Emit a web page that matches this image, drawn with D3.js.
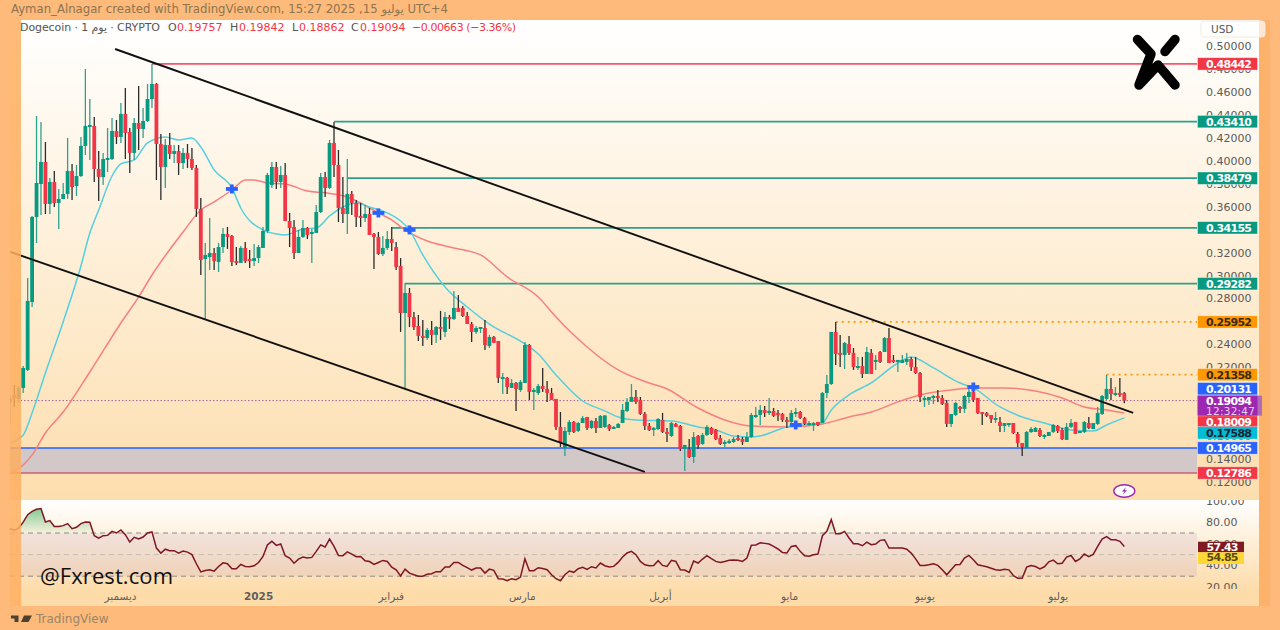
<!DOCTYPE html>
<html><head><meta charset="utf-8">
<script src="https://cdnjs.cloudflare.com/ajax/libs/d3/7.8.5/d3.min.js"></script>
<style>html,body{margin:0;padding:0;background:#fdba7a;overflow:hidden}svg{display:block}text{font-family:"DejaVu Sans",sans-serif}</style>
</head><body><div id="chart"></div>
<script>
const opens=[.1898,.1959,.1924,.2020,.2177,.2769,.3510,.3797,.3989,.3623,.3815,.3632,.3667,.3710,.3911,.3780,.3867,.4129,.4294,.4303,.3928,.3858,.4007,.4015,.4259,.4207,.4408,.4250,.4068,.4329,.4277,.4346,.4538,.4669,.4146,.3946,.4137,.4059,.4085,.3980,.4068,.4015,.3937,.3580,.3144,.3161,.3196,.3118,.3248,.3362,.3344,.3126,.3109,.3240,.3144,.3126,.3152,.3240,.3388,.3789,.3946,.3815,.3876,.3475,.3423,.3196,.3336,.3414,.3362,.3371,.3553,.3858,.3763,.4155,.3963,.3588,.3536,.3710,.3632,.3519,.3501,.3536,.3362,.3336,.3187,.3240,.3318,.3248,.3083,.2673,.2848,.2638,.2560,.2473,.2455,.2525,.2482,.2551,.2508,.2638,.2621,.2717,.2717,.2647,.2577,.2508,.2538,.2542,.2386,.2464,.2429,.2098,.2107,.2020,.2063,.2002,.2063,.2394,.1985,.1976,.2037,.2011,.1976,.1924,.1680,.1497,.1636,.1723,.1645,.1714,.1767,.1671,.1732,.1671,.1680,.1697,.1671,.1671,.1714,.1819,.1898,.1941,.1915,.1793,.1688,.1662,.1662,.1741,.1636,.1601,.1706,.1688,.1488,.1488,.1418,.1601,.1532,.1610,.1671,.1654,.1584,.1532,.1540,.1549,.1584,.1575,.1549,.1592,.1776,.1784,.1828,.1810,.1819,.1802,.1793,.1741,.1723,.1802,.1810,.1758,.1697,.1697,.1723,.1714,.1976,.2054,.2508,.2325,.2307,.2403,.2325,.2194,.2211,.2142,.2325,.2246,.2333,.2333,.2455,.2264,.2246,.2237,.2246,.2272,.2203,.2150,.1915,.1915,.1932,.1950,.1932,.1889,.1706,.1784,.1854,.1837,.1941,.1985,.1932,.1810,.1802,.1784,.1749,.1723,.1688,.1706,.1714,.1619,.1540,.1497,.1636,.1636,.1654,.1592,.1601,.1636,.1688,.1654,.1567,.1680,.1723,.1627,.1636,.1714,.1662,.1706,.1793,.1924,.2011,.1967,.1976,.1976];
const closes=[.1932,.1932,.2020,.2194,.2778,.3510,.3806,.3989,.3623,.3815,.3632,.3667,.3710,.3911,.3771,.3867,.4129,.4303,.4312,.3928,.3858,.4015,.4024,.4259,.4207,.4408,.4242,.4068,.4329,.4277,.4346,.4538,.4669,.4146,.3946,.4137,.4059,.4085,.3980,.4068,.4015,.3937,.3580,.3135,.3179,.3196,.3126,.3248,.3362,.3336,.3118,.3109,.3240,.3126,.3126,.3152,.3248,.3388,.3876,.3946,.3815,.3876,.3475,.3414,.3196,.3336,.3414,.3353,.3379,.3553,.3858,.3763,.4155,.3963,.3588,.3536,.3710,.3632,.3510,.3506,.3536,.3353,.3336,.3187,.3240,.3318,.3283,.3074,.2673,.2848,.2638,.2551,.2473,.2460,.2525,.2482,.2551,.2534,.2638,.2621,.2717,.2682,.2647,.2577,.2508,.2542,.2551,.2394,.2464,.2412,.2107,.2115,.2028,.2063,.2011,.2072,.2394,.1985,.2002,.2037,.2011,.1976,.1915,.1680,.1540,.1645,.1723,.1636,.1714,.1758,.1671,.1732,.1671,.1776,.1780,.1662,.1680,.1706,.1828,.1898,.1941,.1898,.1793,.1688,.1654,.1671,.1749,.1636,.1619,.1714,.1680,.1488,.1523,.1418,.1592,.1523,.1610,.1680,.1619,.1575,.1532,.1549,.1558,.1575,.1575,.1549,.1592,.1784,.1784,.1828,.1802,.1819,.1776,.1784,.1741,.1723,.1802,.1810,.1758,.1706,.1714,.1714,.1697,.1976,.2054,.2508,.2316,.2316,.2412,.2325,.2203,.2211,.2142,.2333,.2142,.2264,.2246,.2455,.2237,.2246,.2264,.2264,.2272,.2203,.2150,.1941,.1932,.1941,.1950,.1932,.1880,.1706,.1793,.1889,.1837,.1950,.1985,.1915,.1802,.1802,.1776,.1749,.1758,.1688,.1714,.1714,.1627,.1540,.1505,.1636,.1662,.1671,.1601,.1610,.1636,.1697,.1645,.1575,.1680,.1714,.1619,.1645,.1723,.1671,.1714,.1802,.1950,.2011,.1967,.1976,.1959,.1909];
const highs=[.1959,.2046,.2037,.2211,.2978,.3519,.4390,.4338,.4163,.3850,.3911,.3754,.3806,.4198,.3972,.3963,.4207,.4800,.4538,.4381,.4085,.4068,.4285,.4373,.4355,.4503,.4634,.4285,.4373,.4651,.4460,.4669,.4843,.4678,.4233,.4190,.4242,.4137,.4137,.4111,.4146,.4111,.3963,.3675,.3283,.3501,.3240,.3283,.3414,.3423,.3353,.3248,.3257,.3292,.3222,.3275,.3266,.3423,.3893,.3989,.3989,.3954,.3980,.3545,.3484,.3397,.3484,.3423,.3405,.3614,.3893,.3902,.4181,.4338,.4094,.3858,.4015,.3736,.3658,.3632,.3614,.3588,.3371,.3379,.3344,.3388,.3423,.3292,.3152,.2935,.2891,.2682,.2656,.2612,.2542,.2603,.2560,.2691,.2682,.2656,.2865,.2830,.2734,.2682,.2595,.2560,.2551,.2612,.2482,.2473,.2429,.2150,.2115,.2098,.2072,.2089,.2420,.2403,.2020,.2054,.2194,.2080,.2020,.1924,.1810,.1680,.1741,.1732,.1723,.1776,.1767,.1741,.1758,.1784,.1784,.1706,.1688,.1714,.1880,.1932,.2054,.2002,.1941,.1810,.1714,.1680,.1758,.1802,.1671,.1723,.1714,.1697,.1523,.1575,.1636,.1610,.1627,.1697,.1680,.1662,.1610,.1567,.1575,.1592,.1610,.1592,.1636,.1802,.1854,.1871,.1863,.1932,.1845,.1828,.1802,.1767,.1828,.1845,.1819,.1767,.1732,.1723,.1723,.1985,.2133,.2508,.2595,.2482,.2420,.2473,.2368,.2290,.2290,.2377,.2360,.2307,.2342,.2464,.2542,.2307,.2264,.2307,.2325,.2290,.2290,.2159,.1949,.1941,.1959,.2002,.1959,.1915,.1793,.1898,.1863,.1959,.2037,.2046,.1932,.1810,.1810,.1784,.1810,.1767,.1714,.1714,.1714,.1636,.1540,.1645,.1680,.1680,.1671,.1619,.1636,.1706,.1697,.1671,.1714,.1749,.1723,.1645,.1732,.1767,.1714,.1854,.1959,.2133,.2107,.2028,.2107,.1984];
const lows=[.1697,.1854,.1889,.1976,.2168,.2725,.3283,.3527,.3536,.3536,.3597,.3405,.3667,.3667,.3658,.3693,.3858,.4050,.4007,.3815,.3649,.3789,.3902,.4007,.4146,.4155,.4015,.3893,.4007,.4094,.4198,.4338,.4460,.3832,.3658,.3763,.4015,.3980,.3876,.3928,.3937,.3920,.3510,.3004,.2612,.3048,.3048,.3031,.3196,.3231,.3083,.3092,.3109,.3109,.3065,.3083,.3109,.3240,.3371,.3763,.3754,.3763,.3475,.3248,.3144,.3196,.3327,.3318,.3109,.3371,.3545,.3684,.3754,.3858,.3466,.3458,.3362,.3527,.3423,.3423,.3466,.3353,.3057,.3179,.3170,.3222,.3214,.3048,.2508,.2020,.2551,.2525,.2429,.2386,.2438,.2394,.2412,.2438,.2464,.2534,.2612,.2682,.2638,.2577,.2420,.2490,.2499,.2351,.2368,.2412,.2063,.1967,.1967,.2020,.1819,.1985,.2063,.1915,.1828,.1959,.1985,.1898,.1915,.1654,.1505,.1427,.1610,.1627,.1636,.1714,.1654,.1662,.1627,.1671,.1671,.1645,.1662,.1671,.1714,.1810,.1898,.1880,.1784,.1654,.1645,.1601,.1654,.1627,.1549,.1592,.1680,.1471,.1296,.1410,.1366,.1488,.1523,.1601,.1610,.1567,.1523,.1505,.1532,.1540,.1558,.1523,.1549,.1584,.1758,.1697,.1767,.1784,.1767,.1732,.1723,.1671,.1714,.1767,.1749,.1697,.1688,.1645,.1688,.1714,.1932,.2046,.2220,.2203,.2185,.2307,.2177,.2177,.2107,.2142,.2142,.2177,.2237,.2333,.2237,.2237,.2159,.2237,.2220,.2168,.2142,.1898,.1854,.1871,.1880,.1898,.1871,.1680,.1680,.1776,.1802,.1802,.1889,.1898,.1793,.1697,.1767,.1714,.1714,.1636,.1636,.1680,.1619,.1505,.1427,.1488,.1627,.1636,.1592,.1575,.1601,.1627,.1627,.1567,.1567,.1671,.1619,.1627,.1627,.1662,.1662,.1697,.1784,.1915,.1915,.1950,.1941,.1886];
const rsiValues=[74,72.5,74.7,80,87,90,92,92.6,80.2,81.5,76,76,76.8,78.7,74,75.3,78.7,80.2,80,67.5,65.3,67.5,67.8,71.5,70,72.8,68.5,61.6,66,64.4,66.3,70,71,56,51.4,55,53.6,53.6,51.4,53.3,52.3,50,41.5,34,35.3,36,34.7,39,42.4,41.5,36.8,36.8,40.9,39,38.7,39.6,42.7,48.3,59,62.3,58.5,59.8,49,46.8,42,45.8,47.7,46.8,47.4,53,59,57,64.4,57.6,49.2,49,52.6,50.5,48,48.3,44.3,43.6,40.9,42.7,44.6,43.6,38.4,35.9,30.3,36.5,32.8,31.3,30,30,31.9,32.3,34.2,34.2,38.5,38.5,42.8,42.8,40,37.9,35.7,37.6,37.6,32.9,36.6,35.4,27.7,27.4,25.8,27.7,26.7,29.2,46.2,35.1,35.1,37.9,37.2,36,31.4,27.7,25.8,31.4,34.8,33.6,36.9,38.2,36.3,38.8,37.6,42.2,39.7,38.5,39.1,42.8,47.8,51.5,53,49.9,43.7,40.6,39.7,40,44.4,40,39.1,44.7,43.7,36,35.7,33.5,44,42.2,45.9,49,46.2,43.7,42.8,43.7,44.7,45,44.7,43.7,46.8,58.6,58.9,61,60.4,59.8,57.6,55.2,52,51.5,57.6,58.3,53,49,48.4,49.9,50.5,67.5,71.5,82.4,69.4,69.4,71.5,65.4,60,60,58.2,61.6,59.2,59.8,63.2,63.8,56,56,56,56,55,51.4,46,40,40,40.6,41.5,40,35.9,31.3,35.9,40.6,40.9,46.8,49.2,45.2,40.6,39.6,38.7,37.4,35.9,35.6,36.5,35.9,30.6,28.1,28,38.4,39.9,39,36.8,38.7,43.3,44.9,41.5,42,47.7,49.2,43.6,46.1,50.5,48,50.2,57.6,64.4,66.6,63.8,63.8,62.3,57.43];
const fastIdx=[0,3,5,8,12,16,18,20,23,25,28,31,35,38,41,43,46,50,52,57,60,62,66,69,72,75,78,81,85,88,90,93,98,103,108,116,119,123,129,134,137,141,149,155,159,163,167,169,175,183,185,189,194,200,203,208,214,217,223,228,233,239,244,247,251];
const fastVals=[.154,.161,.1802,.215,.2595,.3083,.337,.357,.3867,.3972,.4007,.4155,.4207,.4181,.4198,.412,.392,.3763,.3588,.3397,.3362,.3353,.3405,.3414,.3519,.3597,.3632,.3597,.3545,.3475,.3397,.3179,.29,.2725,.2577,.2403,.2316,.2133,.1906,.182,.1767,.1741,.1732,.168,.1654,.1601,.1592,.1601,.168,.1714,.1828,.1959,.2063,.2237,.229,.2194,.2063,.202,.1854,.1767,.1714,.1654,.1645,.1697,.17588];
const slowIdx=[0,3,5,8,12,18,25,29,32,39,43,46,50,53,55,58,62,67,71,76,79,83,86,89,94,99,106,112,119,123,130,137,144,148,155,161,167,175,183,189,194,200,205,212,217,224,231,237,242,247,251];
const slowVals=[.1279,.1348,.1436,.1627,.181,.2159,.2586,.2813,.3004,.3379,.3571,.3641,.3745,.3832,.3832,.3806,.3797,.3736,.372,.3684,.3632,.3545,.3484,.3397,.33,.3248,.3179,.2987,.2813,.2638,.2377,.2177,.2063,.2011,.1845,.1741,.1688,.168,.1706,.1767,.181,.1898,.1959,.2002,.202,.202,.1993,.1932,.1854,.1828,.18009];
const solidLevels=[.48442,.4341,.38479,.34155,.29282];
const solidStarts=[32,73,76,86,89];
const dottedLevels=[.25952,.21358];
const dottedStarts=[186,247];
const zoneTop=.14965, zoneBottom=.12786, lastPrice=.19094;
const trendA=[[23.7,.4974],[253,.1802]];
const trendB=[[.1,.3205],[143,.1288]];
const crossIdx=[50,83,90,177,217];
const crossVals=[.3754,.3545,.3397,.1697,.2028];
const priceTicks=[.5,.48,.46,.44,.42,.4,.38,.36,.34,.32,.3,.28,.26,.24,.22,.2,.18,.16,.14,.12];
const rsiTicks=[100,80,60,40,20];
const timeTicks=[24.8,55.9,85.8,115.3,146.4,175.5,206,236];
const timeLabels=["ديسمبر","2025","فبراير","مارس","أبريل","مايو","يونيو","يوليو"];
const labelValues=[.48442,.4341,.38479,.34155,.29282,.25952,.21358,.20131,.18009,.17588,.14965,.12786];
const labelKinds=["red","green","green","green","green","orange","orange","blue","red","cyan","blue","red"];
const labelShift=[0,0,0,0,0,0,0,0,9,15,0,0];

const W=1280,H=630,GREEN="#089981",RED="#f23645",BLUE="#2962ff",ORANGE="#ff9800",CYAN="#00bcd4",PURPLE="#9c27b0";
const kindStyle={red:[RED,"#fff"],green:[GREEN,"#fff"],orange:[ORANGE,"#3a2a10"],blue:[BLUE,"#fff"],cyan:[CYAN,"#123"]};
const x=d3.scaleLinear().domain([0,251]).range([9.9,1124.3]);
const y=d3.scaleLinear().domain([.12,.5]).range([482,46]);
const r=d3.scaleLinear().domain([20,100]).range([587,500.6]);
const plotEnd=1197;
const svg=d3.select("#chart").append("svg").attr("width",W).attr("height",H);
const defs=svg.append("defs");
function grad(id,stops,attrs){const g=defs.append("linearGradient").attr("id",id).attr("x1",0).attr("x2",0).attr("y1",0).attr("y2",1);
 if(attrs)Object.entries(attrs).forEach(([k,v])=>g.attr(k,v));
 stops.forEach(s=>g.append("stop").attr("offset",s[0]).attr("stop-color",s[1]).attr("stop-opacity",s[2]===undefined?1:s[2]));}
grad("gMain",[[0,"#ffffff"],[1,"#fddeae"]]);
grad("gRsi",[[0,"#ffffff"],[.85,"#fddcaa"],[1,"#fddcaa"]]);
grad("gOb",[[0,"#3fae5a",.7],[1,"#3fae5a",.03]],{gradientUnits:"userSpaceOnUse",y1:506,y2:533});
defs.append("clipPath").attr("id","cMain").append("rect").attr("x",10).attr("y",20).attr("width",1187).attr("height",479);
defs.append("clipPath").attr("id","cOb").append("rect").attr("x",10).attr("y",500).attr("width",1187).attr("height",r(70)-500);
defs.append("clipPath").attr("id","cRsiAxis").append("rect").attr("x",1200).attr("y",500).attr("width",60).attr("height",89);
defs.append("clipPath").attr("id","cMainAxis").append("rect").attr("x",1200).attr("y",20).attr("width",60).attr("height",479);

svg.append("rect").attr("width",W).attr("height",H).attr("fill","#fdba7a");
svg.append("rect").attr("x",10).attr("y",20).attr("width",1249).attr("height",480).attr("fill","url(#gMain)");
svg.append("rect").attr("x",10).attr("y",500).attr("width",1249).attr("height",106).attr("fill","url(#gRsi)");
svg.append("rect").attr("x",1259).attr("y",20).attr("width",11).attr("height",586).attr("fill","#fdb26c");

// zone + levels
const main=svg.append("g").attr("clip-path","url(#cMain)");
main.append("rect").attr("x",10).attr("width",plotEnd-10).attr("y",y(zoneTop)).attr("height",y(zoneBottom)-y(zoneTop)).attr("fill","#d2c8c8");
main.append("line").attr("x1",10).attr("x2",plotEnd).attr("y1",y(zoneTop)).attr("y2",y(zoneTop)).attr("stroke",BLUE).attr("stroke-width",1.6);
main.append("line").attr("x1",10).attr("x2",plotEnd).attr("y1",y(zoneBottom)).attr("y2",y(zoneBottom)).attr("stroke","#c9607a").attr("stroke-width",1.6);
main.append("line").attr("x1",10).attr("x2",plotEnd).attr("y1",y(lastPrice)).attr("y2",y(lastPrice)).attr("stroke","#a0609a").attr("stroke-width",1).attr("stroke-dasharray","1.5 2");
main.selectAll(".lvl").data(solidLevels).join("line").attr("x1",(d,i)=>x(solidStarts[i])).attr("x2",plotEnd).attr("y1",d=>y(d)).attr("y2",d=>y(d))
 .attr("stroke",(d,i)=>i==0?"#f4566a":"#2d9f8a").attr("stroke-width",1.8);
main.selectAll(".dot").data(dottedLevels).join("line").attr("x1",(d,i)=>x(dottedStarts[i])).attr("x2",plotEnd).attr("y1",d=>y(d)).attr("y2",d=>y(d))
 .attr("stroke",ORANGE).attr("stroke-width",1.6).attr("stroke-dasharray","2 4");

// moving averages
const ln=(xs)=>d3.line().x((d,i)=>x(xs[i])).y(d=>y(d)).curve(d3.curveMonotoneX);
main.append("path").attr("d",ln(slowIdx)(slowVals)).attr("fill","none").attr("stroke","#f87f80").attr("stroke-width",1.5);
main.append("path").attr("d",ln(fastIdx)(fastVals)).attr("fill","none").attr("stroke","#55cfdf").attr("stroke-width",1.5);

// candles
const c=main.selectAll(".c").data(opens).join("g");
c.append("line").attr("x1",(d,i)=>x(i)).attr("x2",(d,i)=>x(i)).attr("y1",(d,i)=>y(highs[i])).attr("y2",(d,i)=>y(lows[i]))
 .attr("stroke",(d,i)=>closes[i]>=d?"#2fa08e":"#2b2b2b").attr("stroke-width",1.3);
c.append("rect").attr("x",(d,i)=>x(i)-1.9).attr("width",3.8).attr("y",(d,i)=>y(Math.max(d,closes[i])))
 .attr("height",(d,i)=>Math.max(2,Math.abs(y(d)-y(closes[i])))).attr("fill",(d,i)=>closes[i]>=d?GREEN:RED);

// trend lines
[trendA,trendB].forEach(t=>svg.append("line").attr("x1",x(t[0][0])).attr("y1",y(t[0][1])).attr("x2",x(t[1][0])).attr("y2",y(t[1][1])).attr("stroke","#111").attr("stroke-width",1.9));

// crosses
const cr=svg.selectAll(".cr").data(crossVals).join("g").attr("transform",(d,i)=>`translate(${x(crossIdx[i])},${y(d)})`);
cr.append("rect").attr("x",-6).attr("y",-1.9).attr("width",12).attr("height",3.8).attr("fill",BLUE);
cr.append("rect").attr("x",-1.9).attr("y",-4.5).attr("width",3.8).attr("height",9).attr("fill",BLUE);

// price axis
const pa=svg.append("g").attr("clip-path","url(#cMainAxis)").append("g").attr("transform","translate(1206,0)")
 .call(d3.axisRight(y).tickValues(priceTicks).tickFormat(d3.format(".5f")).tickSize(0).tickPadding(0));
pa.select(".domain").remove();
pa.selectAll("text").attr("fill","#5a5a5a").style("font-size","11px");

// value labels
const lb=svg.selectAll(".lb").data(labelValues).join("g").attr("transform",(d,i)=>`translate(1198,${y(d)+labelShift[i]})`);
lb.append("rect").attr("x",-.5).attr("y",-6.2).attr("width",60).attr("height",12.4).attr("fill",(d,i)=>kindStyle[labelKinds[i]][0]).attr("stroke","#fff").attr("stroke-opacity",.5).attr("stroke-width",.8);
lb.append("text").attr("x",8).attr("y",4).attr("fill",(d,i)=>kindStyle[labelKinds[i]][1]).style("font-size","11px").style("font-weight","bold").attr("textLength",46).text(d=>d3.format(".5f")(d));
// last price label
const lp=svg.append("g").attr("transform",`translate(1198,${y(lastPrice)-5})`);
lp.append("rect").attr("x",0).attr("y",0).attr("width",64).attr("height",20).attr("fill","#b06ab8");
lp.append("rect").attr("x",-.5).attr("y",0).attr("width",60).attr("height",20).attr("fill",PURPLE);
lp.append("text").attr("x",8).attr("y",9.5).attr("fill","#fff").style("font-size","11px").style("font-weight","bold").attr("textLength",46).text(d3.format(".5f")(lastPrice));
lp.append("text").attr("x",8).attr("y",19).attr("fill","#e8d0ee").style("font-size","10.5px").attr("textLength",49).text("12:32:47");

// USD button
svg.append("rect").attr("x",1201).attr("y",21).attr("width",64).attr("height",16).attr("rx",3).attr("fill","#fff").attr("fill-opacity",.7).attr("stroke","#f2eadd");
svg.append("text").attr("x",1211).attr("y",33).attr("fill","#555").style("font-size","10.5px").text("USD");

// flash icon
const fl=svg.append("g");
fl.append("ellipse").attr("cx",1124.3).attr("cy",491).attr("rx",10.5).attr("ry",6.3).attr("fill","#fff").attr("stroke",PURPLE).attr("stroke-width",1.4);
fl.append("path").attr("d","M1126,487 L1122,491.5 L1124.5,491.5 L1122.5,495 L1127,490.2 L1124.6,490.2 Z").attr("fill",PURPLE);

// RSI
const rg=svg.append("g");
rg.append("rect").attr("x",10).attr("width",plotEnd-10).attr("y",r(70)).attr("height",r(30)-r(70)).attr("fill","#7e57c2").attr("fill-opacity",.1);
[70,50,30].forEach(v=>rg.append("line").attr("x1",10).attr("x2",plotEnd).attr("y1",r(v)).attr("y2",r(v)).attr("stroke",v==50?"#c4bcb4":"#8f8a86").attr("stroke-width",1).attr("stroke-dasharray","5 4"));
rg.append("path").attr("clip-path","url(#cOb)").attr("d",d3.area().x((d,i)=>x(i)).y0(r(70)).y1(d=>r(d))(rsiValues)).attr("fill","url(#gOb)");
rg.append("path").attr("d",d3.line().x((d,i)=>x(i)).y(d=>r(d))(rsiValues)).attr("fill","none").attr("stroke","#7f1622").attr("stroke-width",1.5);
const ra=svg.append("g").attr("clip-path","url(#cRsiAxis)").append("g").attr("transform","translate(1206,0)")
 .call(d3.axisRight(r).tickValues(rsiTicks).tickFormat(d3.format(".2f")).tickSize(0).tickPadding(0));
ra.select(".domain").remove();
ra.selectAll("text").attr("fill","#5a5a5a").style("font-size","11px");
const rsiBoxes=[[57.43,"#801922","#fff",541.7],[54.85,"#fdd835","#5a4a10",552.3]];
rsiBoxes.forEach(b=>{const g=svg.append("g").attr("transform",`translate(1198,${b[3]})`);
 g.append("rect").attr("width",46).attr("height",b[1]=="#801922"?10.6:11.7).attr("fill",b[1]);
 g.append("text").attr("x",8.5).attr("y",9).attr("fill",b[2]).style("font-size","11px").style("font-weight","bold").attr("textLength",32).text(b[0].toFixed(2));});

// time axis
const ta=svg.append("g").attr("transform","translate(0,592.5)")
 .call(d3.axisBottom(x).tickValues(timeTicks).tickFormat((d,i)=>timeLabels[i]).tickSize(0).tickPadding(0));
ta.select(".domain").remove();
ta.selectAll("text").attr("fill","#5e5e5e").style("font-size","10.5px").style("font-weight",(d,i)=>i==1?"bold":"normal").attr("dy","0.75em");

// header
svg.append("text").attr("x",11).attr("y",13).attr("fill","#8c7450").style("font-size","11.7px").text("Ayman_Alnagar created with TradingView.com, يوليو 15, 2025 15:27 UTC+4");
const hd=svg.append("g").style("font-size","11px");
hd.append("text").attr("x",20).attr("y",31).attr("fill","#555").attr("textLength",140).text("Dogecoin · 1 يوم · CRYPTO");
[[168,"O","0.19757"],[230,"H","0.19842"],[292,"L","0.18862"],[351,"C","0.19094"]].forEach(t=>{
 hd.append("text").attr("x",t[0]).attr("y",31).attr("fill","#555").text(t[1]);
 hd.append("text").attr("x",t[0]+(t[1]=="L"?7:9)).attr("y",31).attr("fill",RED).text(t[2]);});
hd.append("text").attr("x",412).attr("y",31).attr("fill",RED).attr("textLength",104).text("−0.00663 (−3.36%)");

// logo
svg.append("path").attr("d","M1137.5,39.5 L1151,54 L1139,85 L1158,65 L1175,85").attr("fill","none").attr("stroke","#000").attr("stroke-width",9.5).attr("stroke-linecap","round").attr("stroke-linejoin","round");
svg.append("path").attr("d","M1165,51.5 L1175,39.5").attr("fill","none").attr("stroke","#000").attr("stroke-width",9.5).attr("stroke-linecap","round");

// watermark
svg.append("text").attr("x",40).attr("y",584).attr("fill","#111").style("font-family","'Open Sans',sans-serif").style("font-size","22px").attr("textLength",133).text("@Fxrest.com");

// left strip
svg.append("rect").attr("x",10).attr("y",20).attr("width",11).attr("height",586).attr("fill","#ffae5f").attr("fill-opacity",.85);

// footer
svg.append("path").attr("d","M11,615.5 H18.5 V622 H14.5 V618.5 H11 Z M21,622 L24,615.5 H32 L28.5,622 Z").attr("fill","#4f4030");
svg.append("text").attr("x",36).attr("y",622.5).attr("fill","#9a8668").style("font-size","12px").text("TradingView");
</script></body></html>
